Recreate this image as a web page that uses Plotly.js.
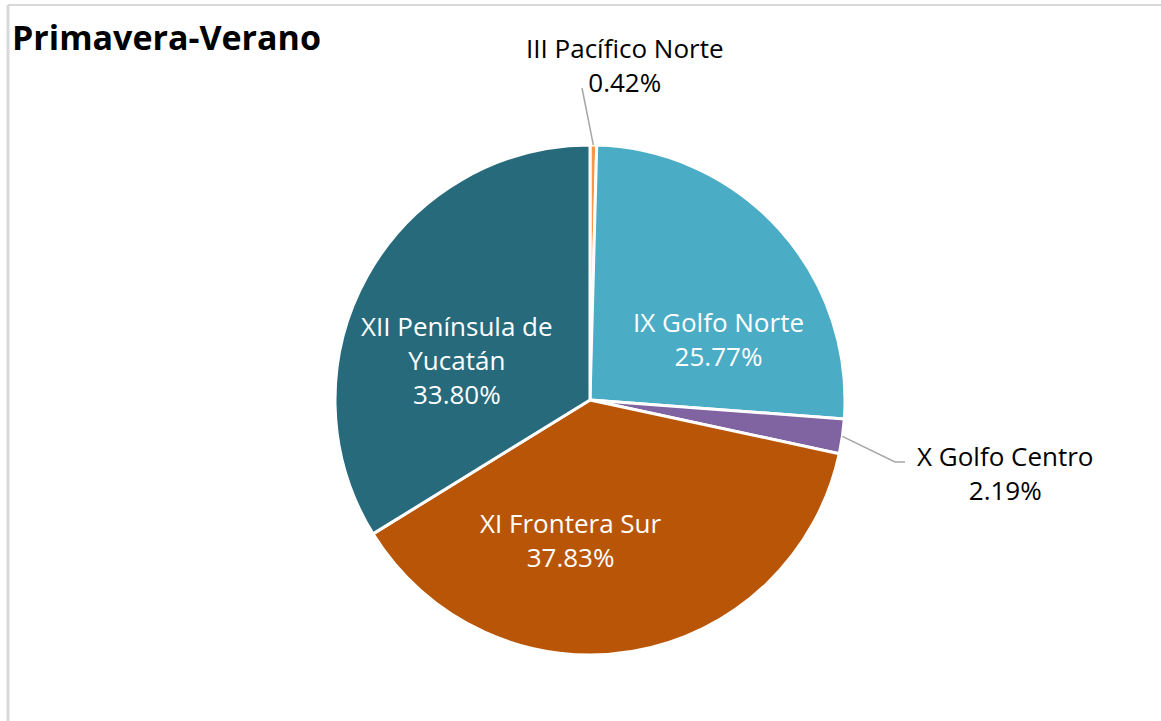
<!DOCTYPE html>
<html>
<head>
<meta charset="utf-8">
<script src="https://cdn.plot.ly/plotly-3.0.1.min.js"></script>
<style>html,body{margin:0;padding:0;background:#fff;}#chart{width:1161px;height:721px;}</style>
</head>
<body>
<div id="chart"></div>
<script>
const regions = ["III Pacífico Norte", "IX Golfo Norte", "X Golfo Centro", "XI Frontera Sur", "XII Península de<br>Yucatán"];
const shares = [0.42, 25.77, 2.19, 37.83, 33.80];
const colors = ["#F79646", "#4BACC6", "#8064A2", "#B85507", "#276A7C"];
const labelColors = ["#000000", "#ffffff", "#000000", "#ffffff", "#ffffff"];

const W = 1161, H = 721;
const cx = 590, cy = 400, R = 255;
const FONT = "'Open Sans', Lato, sans-serif";

const px = x => x / W;
const py = y => 1 - y / H;

// label anchor positions (layout, pixels)
const labelPos = [[625, 65], [718, 339], [1005, 473], [571, 540], [457, 360]];

const total = shares.reduce((a, b) => a + b, 0);
let cum = 0;
const mids = shares.map(v => { const m = cum + v / 2; cum += v; return m / total * 2 * Math.PI; });
const edgePt = i => [cx + R * Math.sin(mids[i]), cy - R * Math.cos(mids[i])];

const trace = {
  type: "pie",
  labels: regions,
  values: shares,
  sort: false,
  direction: "clockwise",
  rotation: 0,
  marker: {colors: colors, line: {color: "#ffffff", width: 3}},
  textinfo: "none",
  hoverinfo: "none",
  showlegend: false,
  domain: {x: [px(cx - R), px(cx + R)], y: [py(cy + R), py(cy - R)]}
};

const p0 = edgePt(0), p2 = edgePt(2);
const shapes = [
  {type: "line", xref: "paper", yref: "paper", x0: px(8), x1: 1, y0: py(5), y1: py(5), line: {color: "#D9D9D9", width: 2}},
  {type: "line", xref: "paper", yref: "paper", x0: px(8), x1: px(8), y0: py(5), y1: 0, line: {color: "#D9D9D9", width: 3}},
  {type: "line", xref: "paper", yref: "paper", x0: px(p0[0]), y0: py(p0[1]), x1: px(582), y1: py(88), line: {color: "#A6A6A6", width: 1.5}},
  {type: "path", xref: "paper", yref: "paper",
   path: `M ${px(p2[0])} ${py(p2[1])} L ${px(895)} ${py(462)} L ${px(905)} ${py(462)}`,
   line: {color: "#A6A6A6", width: 1.5}}
];

const annotations = [
  {xref: "paper", yref: "paper", x: px(10), y: py(37), xanchor: "left", yanchor: "middle", showarrow: false,
   text: "<b>Primavera-Verano</b>", font: {family: FONT, size: 34, color: "#000000"}}
].concat(regions.map((r, i) => ({
  xref: "paper", yref: "paper", x: px(labelPos[i][0]), y: py(labelPos[i][1]),
  xanchor: "center", yanchor: "middle", showarrow: false, align: "center",
  text: r + "<br>" + shares[i].toFixed(2) + "%",
  font: {family: FONT, size: 26, color: labelColors[i]}
})));

Plotly.newPlot("chart", [trace], {
  width: W, height: H,
  margin: {l: 0, r: 0, t: 0, b: 0},
  paper_bgcolor: "#ffffff",
  shapes: shapes,
  annotations: annotations
}, {staticPlot: true});
</script>
</body>
</html>
